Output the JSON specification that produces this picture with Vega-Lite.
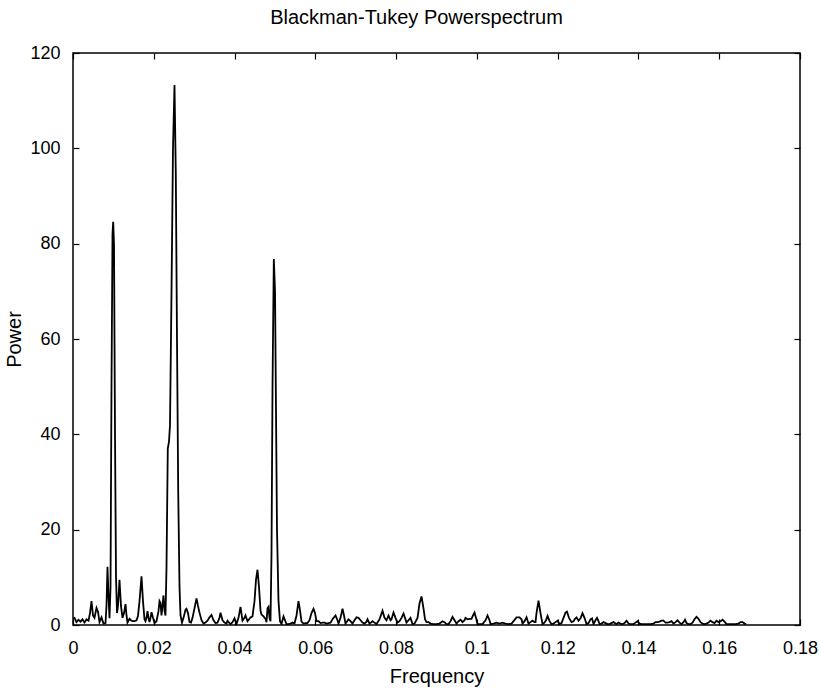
{
  "$schema": "https://vega.github.io/schema/vega-lite/v6.json",
  "width": 727,
  "height": 572,
  "autosize": {"type": "none"},
  "padding": {"left": 73, "top": 53, "right": 20, "bottom": 65},
  "background": "white",
  "title": {"text": "Blackman-Tukey Powerspectrum", "fontSize": 20, "fontWeight": "normal", "color": "#000", "offset": 16, "dx": -20},
  "config": {
    "font": "Liberation Sans",
    "view": {"stroke": "#000", "strokeWidth": 1.5},
    "axis": {"domain": false, "grid": false, "tickColor": "#000", "tickWidth": 1.2, "tickSize": -6, "labelColor": "#000", "labelFontSize": 18, "titleFontSize": 20, "titleFontWeight": "normal", "titleColor": "#000", "labelFont": "Liberation Sans", "titleFont": "Liberation Sans"}
  },
  "data": {"values": [
    {"f":0,"p":1.4},{"f":0.00037,"p":1.5},{"f":0.00087,"p":0.6},{"f":0.00136,"p":1.1},{"f":0.00186,"p":0.7},{"f":0.00235,"p":1.2},{"f":0.00285,"p":0.5},{"f":0.00334,"p":1.2},{"f":0.00384,"p":0.9},{"f":0.00421,"p":2.5},{"f":0.00458,"p":5.0},{"f":0.00495,"p":2.0},{"f":0.00532,"p":1.5},{"f":0.00582,"p":3.6},{"f":0.00619,"p":2.8},{"f":0.00656,"p":0.6},{"f":0.00706,"p":1.6},{"f":0.00755,"p":0.3},{"f":0.00805,"p":0.4},{"f":0.00829,"p":4},{"f":0.00854,"p":12.2},{"f":0.00879,"p":6},{"f":0.00904,"p":1.4},{"f":0.00929,"p":8},{"f":0.00953,"p":50},{"f":0.00978,"p":82},{"f":0.00995,"p":84.6},{"f":0.01015,"p":80},{"f":0.0104,"p":40},{"f":0.01065,"p":10},{"f":0.01089,"p":2.5},{"f":0.01114,"p":4},{"f":0.01151,"p":9.5},{"f":0.01188,"p":4},{"f":0.01226,"p":1.5},{"f":0.01263,"p":2.5},{"f":0.013,"p":4.4},{"f":0.01325,"p":2},{"f":0.01349,"p":0.5},{"f":0.01399,"p":1.3},{"f":0.01436,"p":1.0},{"f":0.01473,"p":0.8},{"f":0.01523,"p":0.8},{"f":0.01572,"p":1.0},{"f":0.01609,"p":1.9},{"f":0.01647,"p":5},{"f":0.01696,"p":10.2},{"f":0.01733,"p":5},{"f":0.0177,"p":1.2},{"f":0.01795,"p":0.8},{"f":0.0182,"p":1.5},{"f":0.01845,"p":2.9},{"f":0.01869,"p":1.5},{"f":0.01894,"p":0.6},{"f":0.01919,"p":1.5},{"f":0.01944,"p":2.7},{"f":0.01981,"p":1.5},{"f":0.02018,"p":0.4},{"f":0.02067,"p":0.8},{"f":0.02117,"p":2.9},{"f":0.02142,"p":5.0},{"f":0.02167,"p":4.6},{"f":0.02191,"p":2},{"f":0.02216,"p":4},{"f":0.02241,"p":6.2},{"f":0.02266,"p":3},{"f":0.0229,"p":2},{"f":0.02315,"p":12},{"f":0.02347,"p":37},{"f":0.02377,"p":38.5},{"f":0.02402,"p":42},{"f":0.02439,"p":70},{"f":0.02476,"p":100},{"f":0.02513,"p":113.3},{"f":0.02545,"p":95},{"f":0.02575,"p":60},{"f":0.02605,"p":28},{"f":0.02637,"p":8},{"f":0.02662,"p":2},{"f":0.02699,"p":0.5},{"f":0.02736,"p":1.5},{"f":0.02786,"p":3.2},{"f":0.0281,"p":3.4},{"f":0.02847,"p":2.5},{"f":0.02885,"p":0.6},{"f":0.02922,"p":0.5},{"f":0.02959,"p":1.5},{"f":0.03008,"p":3.5},{"f":0.03058,"p":5.6},{"f":0.03095,"p":4},{"f":0.03132,"p":2.6},{"f":0.03182,"p":1},{"f":0.03231,"p":0.3},{"f":0.03281,"p":0.5},{"f":0.0333,"p":0.9},{"f":0.0338,"p":1.6},{"f":0.03429,"p":2.1},{"f":0.03479,"p":1},{"f":0.03528,"p":0.4},{"f":0.03578,"p":0.5},{"f":0.03627,"p":1.5},{"f":0.03652,"p":2.6},{"f":0.03702,"p":1.0},{"f":0.03751,"p":0.5},{"f":0.03801,"p":0.3},{"f":0.03825,"p":0.9},{"f":0.03875,"p":0.4},{"f":0.039,"p":0.2},{"f":0.03949,"p":0.6},{"f":0.03999,"p":1.4},{"f":0.04048,"p":0.2},{"f":0.04098,"p":1.5},{"f":0.04147,"p":3.8},{"f":0.04197,"p":0.9},{"f":0.04246,"p":1.5},{"f":0.04271,"p":2.0},{"f":0.04321,"p":0.8},{"f":0.0437,"p":1.3},{"f":0.04395,"p":1.6},{"f":0.04444,"p":1.8},{"f":0.04494,"p":5},{"f":0.04531,"p":9.5},{"f":0.04568,"p":11.6},{"f":0.04605,"p":8},{"f":0.04643,"p":3},{"f":0.04667,"p":2.2},{"f":0.04717,"p":1.8},{"f":0.04766,"p":1.3},{"f":0.04791,"p":0.6},{"f":0.04816,"p":3.5},{"f":0.04841,"p":3.8},{"f":0.04865,"p":1.5},{"f":0.0489,"p":0.8},{"f":0.04915,"p":15},{"f":0.0494,"p":50},{"f":0.04972,"p":76.8},{"f":0.05002,"p":70},{"f":0.05026,"p":45},{"f":0.05051,"p":20},{"f":0.05088,"p":5},{"f":0.05125,"p":0.8},{"f":0.05162,"p":0.2},{"f":0.05212,"p":1.8},{"f":0.05249,"p":1.0},{"f":0.05286,"p":0.2},{"f":0.05336,"p":0.2},{"f":0.05385,"p":0.3},{"f":0.05435,"p":0.5},{"f":0.05484,"p":0.3},{"f":0.05534,"p":2},{"f":0.05583,"p":5},{"f":0.05621,"p":3},{"f":0.05658,"p":0.7},{"f":0.05707,"p":0.3},{"f":0.05757,"p":0.4},{"f":0.05806,"p":0.4},{"f":0.05856,"p":1.0},{"f":0.05905,"p":2.5},{"f":0.05955,"p":3.4},{"f":0.05992,"p":2.5},{"f":0.06029,"p":0.8},{"f":0.06079,"p":0.8},{"f":0.06128,"p":0.4},{"f":0.06178,"p":0.5},{"f":0.06227,"p":0.5},{"f":0.06277,"p":0.3},{"f":0.06326,"p":0.4},{"f":0.06376,"p":0.5},{"f":0.06425,"p":1.2},{"f":0.065,"p":2.0},{"f":0.06549,"p":1.0},{"f":0.06574,"p":0.3},{"f":0.06623,"p":1.5},{"f":0.06673,"p":3.4},{"f":0.0671,"p":2},{"f":0.06747,"p":0.3},{"f":0.06797,"p":0.9},{"f":0.06821,"p":1.2},{"f":0.06871,"p":0.8},{"f":0.0692,"p":0.3},{"f":0.0697,"p":1.0},{"f":0.07019,"p":1.6},{"f":0.07069,"p":1.5},{"f":0.07119,"p":1.0},{"f":0.07168,"p":0.5},{"f":0.07218,"p":0.3},{"f":0.07267,"p":0.7},{"f":0.07292,"p":1.2},{"f":0.07341,"p":0.3},{"f":0.07391,"p":0.6},{"f":0.07416,"p":0.8},{"f":0.07465,"p":0.5},{"f":0.07515,"p":0.2},{"f":0.07589,"p":1.2},{"f":0.07663,"p":3.0},{"f":0.07713,"p":1.5},{"f":0.07762,"p":1.0},{"f":0.07812,"p":2.0},{"f":0.07861,"p":1.0},{"f":0.07886,"p":1.2},{"f":0.07936,"p":2.6},{"f":0.07985,"p":1.5},{"f":0.08035,"p":0.5},{"f":0.08084,"p":0.8},{"f":0.08134,"p":1.5},{"f":0.08183,"p":2.4},{"f":0.0822,"p":1.5},{"f":0.08257,"p":0.5},{"f":0.08307,"p":1.0},{"f":0.08356,"p":1.5},{"f":0.08406,"p":0.2},{"f":0.08456,"p":0.3},{"f":0.0853,"p":1.5},{"f":0.08579,"p":4.5},{"f":0.08629,"p":6.0},{"f":0.08678,"p":3.5},{"f":0.08716,"p":1.2},{"f":0.08753,"p":0.6},{"f":0.08802,"p":0.6},{"f":0.08852,"p":0.3},{"f":0.08926,"p":0.2},{"f":0.09,"p":0.2},{"f":0.09075,"p":0.3},{"f":0.09149,"p":0.8},{"f":0.09198,"p":0.6},{"f":0.09248,"p":0.2},{"f":0.09297,"p":0.2},{"f":0.09347,"p":0.8},{"f":0.09396,"p":1.7},{"f":0.09446,"p":1.0},{"f":0.09495,"p":0.3},{"f":0.09545,"p":0.8},{"f":0.09594,"p":1.1},{"f":0.09644,"p":0.6},{"f":0.09694,"p":1.0},{"f":0.09718,"p":1.5},{"f":0.09768,"p":1.2},{"f":0.09817,"p":1.3},{"f":0.09867,"p":1.3},{"f":0.09904,"p":2.0},{"f":0.09941,"p":2.6},{"f":0.09978,"p":1.5},{"f":0.10015,"p":0.2},{"f":0.10065,"p":0.2},{"f":0.10139,"p":0.2},{"f":0.10214,"p":1.0},{"f":0.10263,"p":2.0},{"f":0.10313,"p":1.0},{"f":0.10337,"p":0.2},{"f":0.10412,"p":0.3},{"f":0.10486,"p":0.5},{"f":0.1056,"p":0.3},{"f":0.10634,"p":0.5},{"f":0.10709,"p":0.3},{"f":0.10783,"p":0.2},{"f":0.10857,"p":0.3},{"f":0.10907,"p":0.8},{"f":0.10981,"p":1.6},{"f":0.11055,"p":1.6},{"f":0.11105,"p":1.2},{"f":0.1113,"p":0.3},{"f":0.11179,"p":0.8},{"f":0.11229,"p":1.6},{"f":0.11278,"p":0.3},{"f":0.11328,"p":0.6},{"f":0.11377,"p":0.9},{"f":0.11427,"p":0.6},{"f":0.11452,"p":0.6},{"f":0.11476,"p":2.5},{"f":0.11526,"p":5.1},{"f":0.11575,"p":2.5},{"f":0.11625,"p":0.2},{"f":0.11674,"p":0.5},{"f":0.11711,"p":1.0},{"f":0.11749,"p":1.9},{"f":0.11798,"p":0.8},{"f":0.11848,"p":0.2},{"f":0.11897,"p":0.3},{"f":0.11947,"p":0.6},{"f":0.11996,"p":0.9},{"f":0.12046,"p":0.2},{"f":0.12095,"p":0.4},{"f":0.12145,"p":1.5},{"f":0.12194,"p":2.6},{"f":0.12231,"p":2.8},{"f":0.12281,"p":1.5},{"f":0.12343,"p":0.6},{"f":0.12392,"p":0.8},{"f":0.1243,"p":1.3},{"f":0.12467,"p":1.6},{"f":0.12516,"p":0.9},{"f":0.12566,"p":1.4},{"f":0.12615,"p":2.5},{"f":0.12665,"p":1.5},{"f":0.12714,"p":0.2},{"f":0.12764,"p":0.4},{"f":0.12813,"p":1.2},{"f":0.1285,"p":1.4},{"f":0.12888,"p":0.2},{"f":0.12937,"p":1.0},{"f":0.12974,"p":1.5},{"f":0.13011,"p":0.8},{"f":0.13036,"p":0.2},{"f":0.13086,"p":0.3},{"f":0.13135,"p":0.6},{"f":0.13185,"p":0.4},{"f":0.13234,"p":0.2},{"f":0.13284,"p":0.2},{"f":0.13333,"p":0.4},{"f":0.13383,"p":0.6},{"f":0.13432,"p":0.3},{"f":0.13457,"p":0.2},{"f":0.13506,"p":0.5},{"f":0.13556,"p":0.3},{"f":0.13606,"p":0.2},{"f":0.13655,"p":0.4},{"f":0.13705,"p":0.9},{"f":0.13754,"p":0.3},{"f":0.13804,"p":0.2},{"f":0.13878,"p":0.2},{"f":0.13927,"p":0.5},{"f":0.13977,"p":0.8},{"f":0.14026,"p":0.3},{"f":0.14076,"p":0.2},{"f":0.1415,"p":0.2},{"f":0.14225,"p":0.2},{"f":0.14299,"p":0.2},{"f":0.14373,"p":0.3},{"f":0.14423,"p":0.6},{"f":0.14472,"p":0.6},{"f":0.14522,"p":0.7},{"f":0.14571,"p":0.9},{"f":0.14621,"p":0.9},{"f":0.1467,"p":0.5},{"f":0.1472,"p":0.5},{"f":0.14769,"p":0.6},{"f":0.14819,"p":0.8},{"f":0.14868,"p":0.3},{"f":0.14918,"p":0.6},{"f":0.14967,"p":1.0},{"f":0.15017,"p":0.5},{"f":0.15066,"p":0.2},{"f":0.15116,"p":0.6},{"f":0.15153,"p":1.1},{"f":0.1519,"p":0.4},{"f":0.1524,"p":0.2},{"f":0.15289,"p":0.2},{"f":0.15339,"p":0.5},{"f":0.15388,"p":1.2},{"f":0.15438,"p":1.7},{"f":0.15487,"p":1.3},{"f":0.15537,"p":0.6},{"f":0.15586,"p":0.3},{"f":0.15636,"p":0.2},{"f":0.15685,"p":0.3},{"f":0.15735,"p":0.5},{"f":0.15784,"p":0.9},{"f":0.15834,"p":0.6},{"f":0.15884,"p":0.4},{"f":0.15933,"p":0.9},{"f":0.15983,"p":0.6},{"f":0.16032,"p":0.8},{"f":0.16082,"p":1.1},{"f":0.16131,"p":0.7},{"f":0.16181,"p":0.2},{"f":0.16255,"p":0.2},{"f":0.16329,"p":0.2},{"f":0.16404,"p":0.2},{"f":0.16478,"p":0.3},{"f":0.16527,"p":0.6},{"f":0.16577,"p":0.6},{"f":0.16626,"p":0.3},{"f":0.16667,"p":0.2}
  ]},
  "layer": [
    {
      "mark": {"type": "line", "color": "#000", "strokeWidth": 1.8, "clip": true},
      "encoding": {
        "x": {"field": "f", "type": "quantitative", "scale": {"domain": [0, 0.18], "nice": false, "zero": false},
              "axis": {"orient": "bottom", "title": "Frequency", "values": [0,0.02,0.04,0.06,0.08,0.1,0.12,0.14,0.16,0.18], "format": "~g", "labelPadding": 20, "titlePadding": 9, "labelFlush": false, "labelOverlap": false}},
        "y": {"field": "p", "type": "quantitative", "scale": {"domain": [0, 120], "nice": false},
              "axis": {"orient": "left", "title": "Power", "values": [0,20,40,60,80,100,120], "labelPadding": 19, "titlePadding": 5, "labelFlush": false}}
      }
    },
    {
      "mark": {"type": "line", "strokeOpacity": 0},
      "encoding": {
        "x": {"field": "f", "type": "quantitative", "axis": {"orient": "top", "title": null, "labels": false, "values": [0,0.02,0.04,0.06,0.08,0.1,0.12,0.14,0.16,0.18]}},
        "y": {"field": "p", "type": "quantitative", "axis": {"orient": "right", "title": null, "labels": false, "values": [0,20,40,60,80,100,120]}}
      }
    }
  ],
  "resolve": {"axis": {"x": "independent", "y": "independent"}}
}
